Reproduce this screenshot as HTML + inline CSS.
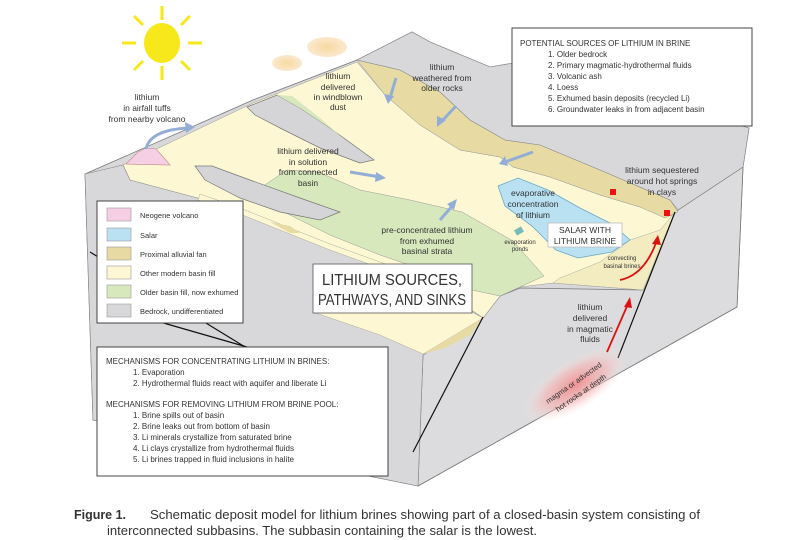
<!DOCTYPE html>
<html><head><meta charset="utf-8"><style>
html,body{margin:0;padding:0;background:#fff;}
svg{display:block;}
text{font-family:"Liberation Sans",sans-serif;fill:#333;}
</style></head><body>
<svg width="800" height="540" viewBox="0 0 800 540" xmlns="http://www.w3.org/2000/svg">
<defs>
<radialGradient id="glow" cx="50%" cy="50%" r="50%">
<stop offset="0" stop-color="#f08a8a" stop-opacity="0.9"/>
<stop offset="0.6" stop-color="#f6b5b5" stop-opacity="0.6"/>
<stop offset="1" stop-color="#fde6e6" stop-opacity="0"/>
</radialGradient>
<radialGradient id="cloud" cx="50%" cy="50%" r="50%">
<stop offset="0" stop-color="#f7d9a0"/>
<stop offset="1" stop-color="#fbe9cf"/>
</radialGradient>
</defs>

<!-- sun -->
<g stroke="#f6e81a" stroke-width="3">
<line x1="162" y1="6" x2="162" y2="20"/><line x1="162" y1="66" x2="162" y2="80"/>
<line x1="122" y1="43" x2="136" y2="43"/><line x1="188" y1="43" x2="202" y2="43"/>
<line x1="134" y1="16" x2="143" y2="25"/><line x1="190" y1="16" x2="181" y2="25"/>
<line x1="134" y1="70" x2="143" y2="61"/><line x1="190" y1="70" x2="181" y2="61"/>
</g>
<ellipse cx="162" cy="43" rx="18" ry="20" fill="#f6e81a"/>
<!-- clouds -->
<ellipse cx="287" cy="63" rx="15" ry="8" fill="url(#cloud)"/>
<ellipse cx="327" cy="47" rx="20" ry="10" fill="url(#cloud)"/>

<!-- block silhouette -->
<polygon points="85,174 253,100 357,60 412,32 430,42 490,67 520,62 749,128 743,167 737,307 418,486 93,420" fill="#d8d8da" stroke="#777" stroke-width="0.8"/>
<!-- right face -->
<polygon points="675,212 743,167 737,307 418,486 423,355 483,318 500,296 520,288 643,290" fill="#dcdcde" stroke="#777" stroke-width="0.8"/>
<!-- yellow surface main -->
<polygon points="123,165 253,103 357,62 385,95 420,125 460,150 500,157 513,167 550,177 600,195 640,207 672,216 643,290 553,283 520,287 500,296 483,318 423,350 380,300 330,270 290,250 250,232 205,212 180,200 150,190 130,180" fill="#fdf7d3" stroke="#999" stroke-width="0.5"/>
<!-- tan alluvial fan band along back mountain -->
<polygon points="357,60 400,70 440,92 470,120 505,140 540,145 600,170 670,200 678,212 665,218 640,207 600,195 550,177 513,167 500,157 460,150 420,125 385,95" fill="#e7dba3" stroke="#999" stroke-width="0.5"/>
<!-- back mountain redraw -->
<polygon points="357,60 412,32 430,42 490,67 520,62 749,128 743,167 678,210 670,200 600,170 540,145 505,140 470,120 440,92 400,70" fill="#d8d8da" stroke="#888" stroke-width="0.6"/>
<!-- green exhumed older fill -->
<polygon points="287,170 318,172 360,190 410,200 462,212 513,241 544,276 520,287 500,296 472,290 430,272 380,255 330,235 290,215 250,195" fill="#d7e8bd" stroke="#999" stroke-width="0.5"/>
<!-- ridge 1 -->
<polygon points="247,107 277,95 300,108 330,128 374,160 360,163 320,148 280,128 255,115" fill="#d5d5d7" stroke="#777" stroke-width="0.7"/>
<polygon points="277,95 292,96 320,118 345,140 330,128 300,108" fill="#d7e8bd"/>
<!-- ridge 2 -->
<polygon points="195,166 212,166 250,180 300,198 340,212 320,220 280,212 240,198 205,180" fill="#d5d5d7" stroke="#777" stroke-width="0.7"/>
<!-- front-left bedrock band -->
<polygon points="85,174 123,165 130,180 160,188 205,200 250,215 300,235 350,255 390,268 430,282 483,318 423,355 418,486 93,420" fill="#d8d8da" stroke="#888" stroke-width="0.6"/>
<!-- thin yellow strip with tan pinch -->
<polygon points="200,194 240,208 280,224 330,244 380,262 430,280 430,286 380,268 330,250 280,230 240,214 198,200" fill="#fdf7d3" stroke="#999" stroke-width="0.4"/>
<polygon points="270,222 290,226 300,233 290,233" fill="#e7dba3"/>
<!-- yellow front patch near front corner -->
<polygon points="313,312 372,310 430,290 483,318 423,354 380,335" fill="#fdf7d3" stroke="#999" stroke-width="0.4"/>
<polygon points="423,354 483,318 470,335 445,348" fill="#e7dba3"/>
<!-- cross-section wedge at right -->
<polygon points="553,283 643,290 675,212 660,230 630,240 600,262 560,278" fill="#f3ecc0" stroke="#999" stroke-width="0.4"/>
<polygon points="643,290 675,212 660,245" fill="#e7dba3"/>
<!-- salar -->
<polygon points="498,186 518,178 548,190 580,208 612,224 630,240 612,252 578,258 556,250 532,226 505,206" fill="#b9e1f2" stroke="#6aa9c8" stroke-width="0.8"/>
<!-- volcano -->
<polygon points="126,164 138,152 146,148 156,149 166,160 170,165" fill="#f7cfe4" stroke="#b88" stroke-width="0.6"/>
<!-- faults -->
<g stroke="#111" stroke-width="1.2" fill="none">
<line x1="483" y1="317" x2="413" y2="452"/>
<line x1="675" y1="212" x2="618" y2="358"/>
<line x1="90" y1="252" x2="250" y2="350"/>
<line x1="160" y1="322" x2="247" y2="347"/>
</g>
<!-- magma glow -->
<ellipse cx="575" cy="385" rx="60" ry="25" fill="url(#glow)" transform="rotate(-32 575 385)"/>
<text font-size="7.5" transform="translate(548,404) rotate(-35)">magma or advected</text>
<text font-size="7.5" transform="translate(558,412) rotate(-35)">hot rocks at depth</text>

<!-- arrows blue -->
<g stroke="#93aed6" stroke-width="3" fill="none">
<path d="M146,149 Q150,130 188,128"/>
<line x1="350" y1="172" x2="380" y2="177"/>
<line x1="396" y1="78" x2="390" y2="98"/>
<line x1="456" y1="106" x2="441" y2="122"/>
<line x1="533" y1="152" x2="505" y2="162"/>
<line x1="440" y1="220" x2="453" y2="205"/>
</g>
<g fill="#93aed6">
<polygon points="195,127 185,122 186,133"/>
<polygon points="386,178 376,172 375,182"/>
<polygon points="388,104 384,94 394,96"/>
<polygon points="437,127 437,116 446,120"/>
<polygon points="499,164 505,156 508,166"/>
<polygon points="457,199 447,204 454,210"/>
</g>
<!-- red -->
<rect x="610" y="189" width="6" height="6" fill="#e11"/>
<rect x="664" y="210" width="6" height="6" fill="#e11"/>
<g stroke="#d11" stroke-width="1.8" fill="none">
<line x1="607" y1="352" x2="628" y2="304"/>
<path d="M620,280 Q645,275 657,240"/>
</g>
<polygon points="630,297 624,307 632,308" fill="#d11"/>
<polygon points="658,235 652,244 661,245" fill="#d11"/>
<!-- evaporation ponds icon -->
<rect x="515" y="228" width="8" height="6" fill="#7bb" transform="rotate(-30 519 231)"/>

<!-- labels -->
<g font-size="8.5" text-anchor="middle">
<text x="147" y="100">lithium</text><text x="147" y="111">in airfall tuffs</text><text x="147" y="122">from nearby volcano</text>
<text x="338" y="79">lithium</text><text x="338" y="90">delivered</text><text x="338" y="100">in windblown</text><text x="338" y="110">dust</text>
<text x="442" y="70">lithium</text><text x="442" y="81">weathered from</text><text x="442" y="91">older rocks</text>
<text x="308" y="154">lithium delivered</text><text x="308" y="165">in solution</text><text x="308" y="175">from connected</text><text x="308" y="186">basin</text>
<text x="427" y="233">pre-concentrated lithium</text><text x="427" y="244">from exhumed</text><text x="427" y="254">basinal strata</text>
<text x="533" y="196">evaporative</text><text x="533" y="207">concentration</text><text x="533" y="218">of lithium</text>
<text x="662" y="173">lithium sequestered</text><text x="662" y="184">around hot springs</text><text x="662" y="195">in clays</text>
<text x="590" y="310">lithium</text><text x="590" y="321">delivered</text><text x="590" y="332">in magmatic</text><text x="590" y="342">fluids</text>
</g>
<g font-size="6" text-anchor="middle">
<text x="520" y="244">evaporation</text><text x="520" y="251">ponds</text>
<text x="622" y="260">convecting</text><text x="622" y="268">basinal brines</text>
</g>
<rect x="548" y="223" width="74" height="24" fill="#fff" stroke="#bbb" stroke-width="0.8"/>
<g font-size="8.5" text-anchor="middle"><text x="585" y="233">SALAR WITH</text><text x="585" y="244">LITHIUM BRINE</text></g>

<!-- title box -->
<rect x="313" y="264" width="159" height="49" fill="#fff" stroke="#555" stroke-width="0.8"/>
<g font-size="16" text-anchor="middle" fill="#222"><text x="392" y="285" textLength="140" lengthAdjust="spacingAndGlyphs">LITHIUM SOURCES,</text><text x="392" y="305" textLength="148" lengthAdjust="spacingAndGlyphs">PATHWAYS, AND SINKS</text></g>

<!-- legend -->
<rect x="97" y="201" width="146" height="122" fill="#fff" stroke="#444" stroke-width="1"/>
<g stroke="#999" stroke-width="0.6">
<rect x="107" y="208" width="24" height="13" fill="#f7cfe4"/>
<rect x="107" y="228" width="24" height="13" fill="#b9e1f2"/>
<rect x="107" y="247" width="24" height="13" fill="#e7dba3"/>
<rect x="107" y="266" width="24" height="13" fill="#fdf7d3"/>
<rect x="107" y="285" width="24" height="13" fill="#d7e8bd"/>
<rect x="107" y="304" width="24" height="13" fill="#d8d8da"/>
</g>
<g font-size="7.5">
<text x="140" y="218">Neogene volcano</text>
<text x="140" y="238">Salar</text>
<text x="140" y="257">Proximal alluvial fan</text>
<text x="140" y="276">Other modern basin fill</text>
<text x="140" y="295">Older basin fill, now exhumed</text>
<text x="140" y="314">Bedrock, undifferentiated</text>
</g>

<!-- mechanisms box -->
<rect x="97" y="347" width="291" height="129" fill="#fff" stroke="#444" stroke-width="1"/>
<g font-size="8">
<text x="106" y="364">MECHANISMS FOR CONCENTRATING LITHIUM IN BRINES:</text>
<text x="133" y="375">1. Evaporation</text>
<text x="133" y="386">2. Hydrothermal fluids react with aquifer and liberate Li</text>
<text x="106" y="407">MECHANISMS FOR REMOVING LITHIUM FROM BRINE POOL:</text>
<text x="133" y="418">1. Brine spills out of basin</text>
<text x="133" y="429">2. Brine leaks out from bottom of basin</text>
<text x="133" y="440">3. Li minerals crystallize from saturated brine</text>
<text x="133" y="451">4. Li clays crystallize from hydrothermal fluids</text>
<text x="133" y="462">5. Li brines trapped in fluid inclusions in halite</text>
</g>

<!-- sources box -->
<rect x="512" y="28" width="240" height="98" fill="#fff" stroke="#444" stroke-width="1"/>
<g font-size="8">
<text x="520" y="46">POTENTIAL SOURCES OF LITHIUM IN BRINE</text>
<text x="548" y="57">1. Older bedrock</text>
<text x="548" y="68">2. Primary magmatic-hydrothermal fluids</text>
<text x="548" y="79">3. Volcanic ash</text>
<text x="548" y="90">4. Loess</text>
<text x="548" y="101">5. Exhumed basin deposits (recycled Li)</text>
<text x="548" y="112">6. Groundwater leaks in from adjacent basin</text>
</g>

<!-- caption -->
<text x="74" y="519" font-size="13" font-weight="bold" fill="#111" textLength="52" lengthAdjust="spacingAndGlyphs">Figure 1.</text>
<text x="150" y="519" font-size="13" fill="#222" textLength="550" lengthAdjust="spacingAndGlyphs">Schematic deposit model for lithium brines showing part of a closed-basin system consisting of</text>
<text x="107" y="535" font-size="13" fill="#222" textLength="430" lengthAdjust="spacingAndGlyphs">interconnected subbasins. The subbasin containing the salar is the lowest.</text>
</svg>
</body></html>
